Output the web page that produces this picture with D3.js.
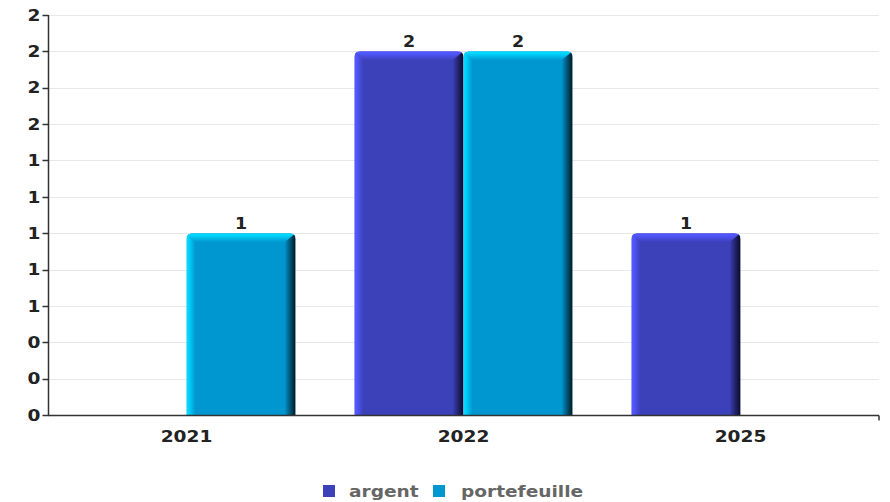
<!DOCTYPE html>
<html>
<head>
<meta charset="utf-8">
<script src="https://cdn.jsdelivr.net/npm/d3@7"></script>
<style>
  html, body { margin: 0; padding: 0; background: #fff; }
  svg { display: block; font-family: "DejaVu Sans", sans-serif; }
</style>
</head>
<body>
<svg id="chart" width="890" height="502"></svg>
<script>
// Years on the x axis and the two series
const categories = ["2021", "2022", "2025"];
const seriesNames = ["argent", "portefeuille"];
const argentValues = [0, 2, 1];
const portefeuilleValues = [1, 2, 0];
const yTicks = [0, 0.2, 0.4, 0.6, 0.8, 1.0, 1.2, 1.4, 1.6, 1.8, 2.0, 2.2];

const palette = {
  argent: { base: "#3c40b9", light: "#5258ff", dark: "#0a0a28" },
  portefeuille: { base: "#0096cf", light: "#00d8ff", dark: "#001620" }
};

const svg = d3.select("#chart");
const margin = { left: 48, right: 11, top: 15, bottom: 87 };
const W = 890, H = 502;
const x0 = margin.left, x1 = W - margin.right;
const yTop = margin.top, yBot = H - margin.bottom;
const stretch = 1.16;

const x = d3.scaleBand().domain(categories).range([x0, x1]).paddingInner(0).paddingOuter(0);
const xs = d3.scaleBand().domain(seriesNames).range([0, x.bandwidth()]).paddingOuter(0.27).paddingInner(0);
const y = d3.scaleLinear().domain([0, 2.2]).range([yBot, yTop]);

const rows = categories.map((c, i) => ({
  cat: c,
  values: [
    { key: "argent", value: argentValues[i] },
    { key: "portefeuille", value: portefeuilleValues[i] }
  ]
}));

// wide bold label placed at (px, py)
function label(parent, px, py, str, opts) {
  return parent.append("text")
    .attr("transform", `translate(${px},${py}) scale(${stretch},1)`)
    .attr("text-anchor", opts.anchor || "middle")
    .attr("dy", opts.dy || null)
    .attr("font-size", opts.size || 16)
    .attr("font-weight", "bold")
    .attr("fill", opts.fill || "#222")
    .text(str);
}

// gradients for the bevelled faces
const defs = svg.append("defs");
Object.entries(palette).forEach(([k, p]) => {
  const gl = defs.append("linearGradient").attr("id", "left-" + k).attr("x1", 0).attr("x2", 1).attr("y1", 0).attr("y2", 0);
  gl.append("stop").attr("offset", 0.2).attr("stop-color", p.light);
  gl.append("stop").attr("offset", 1).attr("stop-color", p.base);
  const gt = defs.append("linearGradient").attr("id", "top-" + k).attr("x1", 0).attr("x2", 0).attr("y1", 0).attr("y2", 1);
  gt.append("stop").attr("offset", 0.2).attr("stop-color", p.light);
  gt.append("stop").attr("offset", 1).attr("stop-color", p.base);
  const gr = defs.append("linearGradient").attr("id", "right-" + k).attr("x1", 0).attr("x2", 1).attr("y1", 0).attr("y2", 0);
  gr.append("stop").attr("offset", 0).attr("stop-color", p.base);
  gr.append("stop").attr("offset", 1).attr("stop-color", p.dark);
});

// horizontal grid
svg.append("g")
  .selectAll("line").data(yTicks).join("line")
  .attr("x1", x0).attr("x2", x1)
  .attr("y1", d => Math.round(y(d)) + 0.5).attr("y2", d => Math.round(y(d)) + 0.5)
  .attr("stroke", "#e8e8e8").attr("stroke-width", 1);

// bars
const bevel = 9, rbevel = 11, radius = 6;
let clipId = 0;
rows.forEach(row => {
  row.values.forEach(v => {
    if (v.value <= 0) return;
    const bx = x(row.cat) + xs(v.key);
    const bw = xs.bandwidth();
    const by = y(v.value);
    const bh = yBot - by;
    const g = svg.append("g");
    const id = "clip" + (clipId++);
    const shape = `M${bx},${yBot} L${bx},${by + radius} Q${bx},${by} ${bx + radius},${by} L${bx + bw - radius},${by} Q${bx + bw},${by} ${bx + bw},${by + radius} L${bx + bw},${yBot} Z`;
    defs.append("clipPath").attr("id", id).append("path").attr("d", shape);
    const inner = g.append("g").attr("clip-path", `url(#${id})`);
    inner.append("rect").attr("x", bx).attr("y", by).attr("width", bw).attr("height", bh).attr("fill", palette[v.key].base);
    inner.append("polygon")
      .attr("points", [[bx, by], [bx + bevel, by + bevel], [bx + bevel, yBot], [bx, yBot]].join(" "))
      .attr("fill", `url(#left-${v.key})`);
    inner.append("polygon")
      .attr("points", [[bx, by], [bx + bw, by], [bx + bw - rbevel, by + bevel], [bx + bevel, by + bevel]].join(" "))
      .attr("fill", `url(#top-${v.key})`);
    inner.append("polygon")
      .attr("points", [[bx + bw, by], [bx + bw, yBot], [bx + bw - rbevel, yBot], [bx + bw - rbevel, by + bevel]].join(" "))
      .attr("fill", `url(#right-${v.key})`);

    label(svg, bx + bw / 2, by - 4, d3.format("d")(v.value), { size: 15 });
  });
});

// y axis
const yAxis = svg.append("g").attr("transform", `translate(${x0 + 0.5},0)`);
yAxis.append("line").attr("x1", 0).attr("x2", 0).attr("y1", yTop).attr("y2", yBot).attr("stroke", "#333").attr("stroke-width", 1.5);
yAxis.selectAll("line.tick").data(yTicks).join("line").attr("class", "tick")
  .attr("x1", -6).attr("x2", 0)
  .attr("y1", d => Math.round(y(d)) + 0.5).attr("y2", d => Math.round(y(d)) + 0.5)
  .attr("stroke", "#333").attr("stroke-width", 1.5);
yTicks.forEach(t => label(yAxis, -8, y(t), d3.format(".0f")(t), { anchor: "end", dy: "0.36em", size: 16 }));

// x axis
const xAxis = svg.append("g").attr("transform", `translate(0,${yBot + 0.5})`);
xAxis.append("line").attr("x1", x0).attr("x2", x1).attr("y1", 0).attr("y2", 0).attr("stroke", "#333").attr("stroke-width", 1.5);
xAxis.append("line").attr("x1", x1).attr("x2", x1).attr("y1", 0).attr("y2", 5).attr("stroke", "#333").attr("stroke-width", 1.5);
categories.forEach(c => label(xAxis, x(c) + x.bandwidth() / 2, 26, c, { size: 16 }));

// legend
const legend = svg.append("g").attr("transform", "translate(0,491)");
const legendItems = [
  { key: "argent", x: 323, tx: 349 },
  { key: "portefeuille", x: 433, tx: 461 }
];
legendItems.forEach(it => {
  legend.append("rect").attr("x", it.x).attr("y", -6).attr("width", 12).attr("height", 12).attr("fill", palette[it.key].base);
  label(legend, it.tx, 0, it.key, { anchor: "start", dy: "0.36em", size: 16, fill: "#666" });
});
</script>
</body>
</html>
